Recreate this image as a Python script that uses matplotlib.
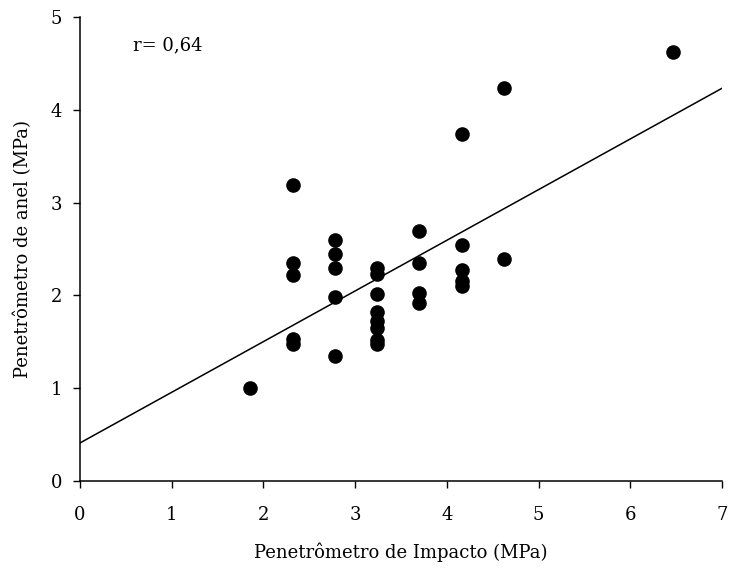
import matplotlib
matplotlib.use("Agg")
import matplotlib.pyplot as plt
import numpy as np

plt.rcParams['font.family'] = ['DejaVu Serif']

# Penetrômetro de Impacto (MPa)
impacto = [1.85,
           2.32, 2.32, 2.32, 2.32, 2.32,
           2.78, 2.78, 2.78, 2.78, 2.78,
           3.24, 3.24, 3.24, 3.24, 3.24, 3.24, 3.24, 3.24,
           3.70, 3.70, 3.70, 3.70,
           4.16, 4.16, 4.16, 4.16, 4.16,
           4.62, 4.62,
           6.47]
# Penetrômetro de anel (MPa)
anel = [1.00,
        3.19, 2.35, 2.22, 1.53, 1.48,
        2.60, 2.45, 2.29, 1.98, 1.35,
        2.30, 2.23, 2.01, 1.82, 1.72, 1.65, 1.52, 1.48,
        2.69, 2.35, 2.03, 1.92,
        3.74, 2.54, 2.27, 2.15, 2.10,
        4.24, 2.39,
        4.62]

intercepto = 0.41
inclinacao = 0.546

fig = plt.figure(figsize=(7.29, 5.70), dpi=100)
ax = fig.add_axes([80 / 729, 89 / 570, 642 / 729, 464 / 570])

ax.scatter(impacto, anel, s=90, color='black', zorder=3, clip_on=False)
xl = np.array([0, 7])
ax.plot(xl, intercepto + inclinacao * xl, color='black', lw=1.1)

ax.set_xlim(0, 7)
ax.set_ylim(0, 5)
ax.set_xticks(range(0, 8))
ax.set_yticks(range(0, 6))
ax.spines['top'].set_visible(False)
ax.spines['right'].set_visible(False)
for s in ('left', 'bottom'):
    ax.spines[s].set_linewidth(1.1)
ax.tick_params(direction='out', length=5, width=1.0, labelsize=13)
ax.tick_params(axis='x', pad=13)
ax.tick_params(axis='y', pad=8)

ax.set_xlabel('Penetrômetro de Impacto (MPa)', fontsize=13, va='center')
ax.xaxis.set_label_coords(0.5, (481 - 552) / 464)
ax.set_ylabel('Penetrômetro de anel (MPa)', fontsize=13, va='center')
ax.yaxis.set_label_coords((23 - 80) / 642, 0.5)
ax.text(0.58, 4.69, 'r= 0,64', fontsize=13, va='center')

fig.savefig('out.png', dpi=100)
